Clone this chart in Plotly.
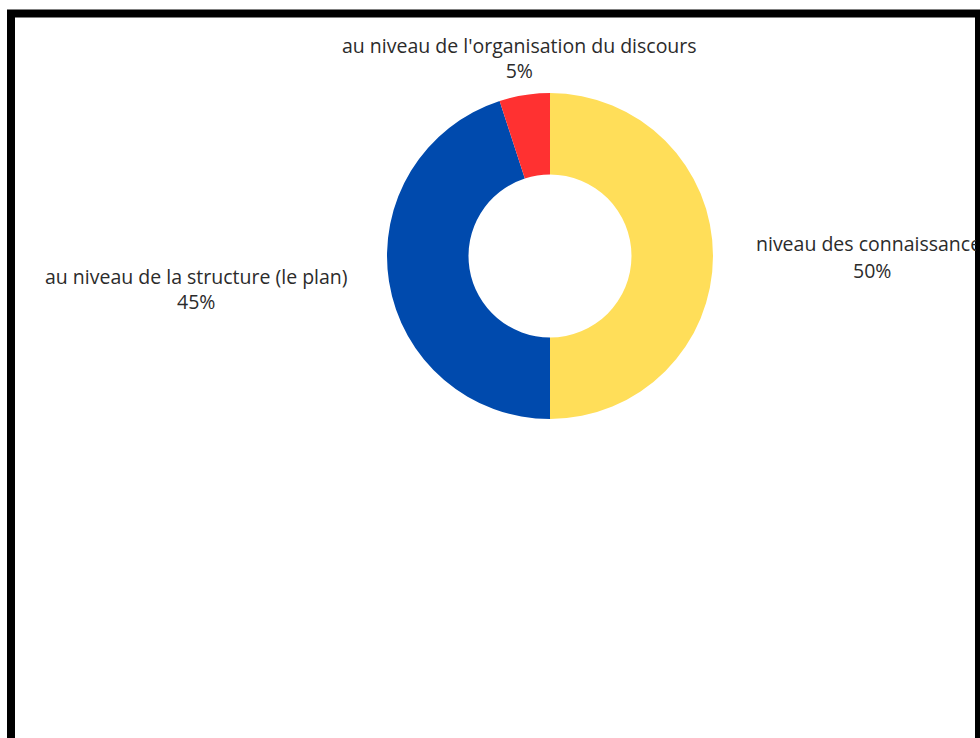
import plotly.graph_objects as go

labels = ["niveau des connaissances",
          "au niveau de la structure (le plan)",
          "au niveau de l'organisation du discours"]
values = [50, 45, 5]
colors = ["#FFDE59", "#004AAD", "#FF3131"]

W, H = 980, 738
total = sum(values)
pct = [f"{round(v * 100 / total)}%" for v in values]


def px(x):
    return x / W


def py(y):
    return 1 - y / H


font = dict(family="Open Sans, sans-serif", size=19.5, color="#2b2b2b")

fig = go.Figure(go.Pie(
    labels=labels,
    values=values,
    marker=dict(colors=colors, line=dict(width=0)),
    hole=0.5,
    sort=False,
    direction="clockwise",
    rotation=0,
    textinfo="none",
    hoverinfo="label+percent",
    domain=dict(x=[px(387), px(713)], y=[py(419), py(93)]),
))

annotations = [
    # top label
    dict(x=px(519), y=py(57.5), text=f"{labels[2]}<br>{pct[2]}"),
    # left label
    dict(x=px(196), y=py(289), text=f"{labels[1]}<br>{pct[1]}"),
    # right label, clipped by the frame like in the original
    dict(x=px(754), y=py(243), text=labels[0], xanchor="left",
         align="left", width=220),
    dict(x=px(872), y=py(270), text=pct[0]),
]
for a in annotations:
    a.setdefault("xanchor", "center")
    a.update(xref="paper", yref="paper", yanchor="middle", showarrow=False,
             font=font)

fig.update_layout(
    width=W, height=H,
    margin=dict(l=0, r=0, t=0, b=0),
    paper_bgcolor="white",
    showlegend=False,
    annotations=annotations,
    shapes=[dict(type="rect", xref="paper", yref="paper",
                 x0=px(11), x1=px(979), y0=py(760), y1=py(13.5),
                 line=dict(color="black", width=8), layer="above")],
)

fig.write_html("out.html",
               config={"displayModeBar": False},
               post_script="document.body.style.margin='0';"
                           "document.body.style.overflow='hidden';")
